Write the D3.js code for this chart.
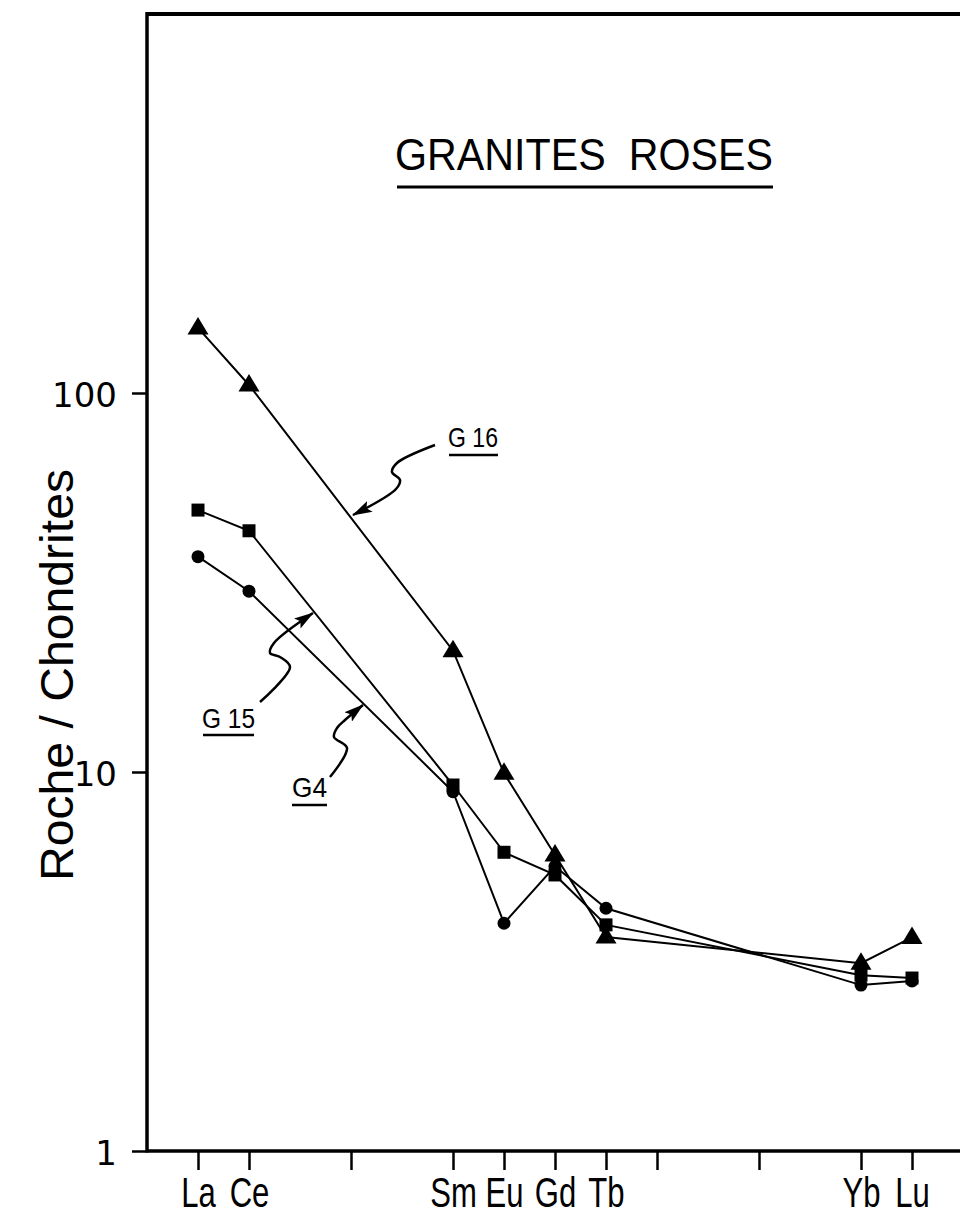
<!DOCTYPE html>
<html>
<head>
<meta charset="utf-8">
<script src="https://cdn.jsdelivr.net/npm/d3@7/dist/d3.min.js"></script>
<style>
  html, body { margin: 0; padding: 0; background: #fff; }
  svg { display: block; }
</style>
</head>
<body>
<svg id="chart" width="960" height="1219"></svg>
<script>
// ---------- DATA ----------
const elements = ["La","Ce","Pr","Nd","Pm","Sm","Eu","Gd","Tb","Dy","Ho","Er","Tm","Yb","Lu"];
const tickElements = ["La","Ce","Nd","Sm","Eu","Gd","Tb","Dy","Er","Yb","Lu"];
const labeledElements = ["La","Ce","Sm","Eu","Gd","Tb","Yb","Lu"];
const sampleElements = ["La","Ce","Sm","Eu","Gd","Tb","Yb","Lu"];
const g16 = [148.5, 105, 20.9, 9.92, 6.04, 3.67, 3.13, 3.66];
const g15 = [49.1, 43.3, 9.24, 6.14, 5.35, 3.95, 2.91, 2.86];
const g4  = [37.0, 30.0, 8.87, 3.99, 5.64, 4.37, 2.74, 2.81];
const yTicks = [1, 10, 100];
const yTickLabels = ["1", "10", "100"];
const chartTitle = "GRANITES  ROSES";
const yTitle = "Roche / Chondrites";

// ---------- LAYOUT ----------
const svg = d3.select("#chart");
const mLeft = 147, mTop = 14, mBottom = 1151, mRight = 960;
const x = d3.scalePoint().domain(elements).range([198, 912]).padding(0);
const y = d3.scaleLog().domain([1, 1000]).range([mBottom, mTop]);

const condensed = "'Liberation Sans', Arial, sans-serif";

// frame: top line
svg.append("line").attr("x1", mLeft).attr("x2", mRight).attr("y1", mTop).attr("y2", mTop)
  .attr("stroke", "#000").attr("stroke-width", 4);

// x axis
const xAxis = d3.axisBottom(x).tickValues(tickElements).tickSize(19).tickSizeOuter(0)
  .tickFormat(d => labeledElements.includes(d) ? d : "");
const gx = svg.append("g").attr("transform", `translate(0,${mBottom})`).call(xAxis);
gx.select(".domain").attr("stroke", "#000").attr("stroke-width", 3.5)
  .attr("d", `M${mLeft},0H${mRight}`);
gx.selectAll(".tick line").attr("stroke", "#000").attr("stroke-width", 2.5);
gx.selectAll(".tick text")
  .attr("y", 56).attr("dy", null)
  .attr("font-family", condensed).attr("font-size", 42).attr("fill", "#000")
  .attr("transform", "scale(0.74,1)");

// y axis
const yAxis = d3.axisLeft(y).tickValues(yTicks).tickSize(15).tickSizeOuter(0)
  .tickFormat((d, i) => yTickLabels[i]);
const gy = svg.append("g").attr("transform", `translate(${mLeft},0)`).call(yAxis);
gy.select(".domain").attr("stroke", "#000").attr("stroke-width", 3.5)
  .attr("d", `M0,${mTop - 2}V${mBottom + 1.5}`);
gy.selectAll(".tick line").attr("stroke", "#000").attr("stroke-width", 2.5);
gy.selectAll(".tick text")
  .attr("x", -30).attr("dy", 13)
  .attr("font-family", "'DejaVu Sans', sans-serif").attr("font-size", 34).attr("fill", "#000");

// y axis title
svg.append("text")
  .attr("transform", "translate(73,675) rotate(-90)")
  .attr("text-anchor", "middle")
  .attr("font-family", condensed).attr("font-size", 46)
  .attr("textLength", 412).attr("lengthAdjust", "spacingAndGlyphs")
  .text(yTitle);

// title
svg.append("text")
  .attr("x", 395).attr("y", 170)
  .attr("font-family", condensed).attr("font-size", 44)
  .attr("textLength", 378).attr("lengthAdjust", "spacingAndGlyphs")
  .style("white-space", "pre")
  .text(chartTitle);
svg.append("line").attr("x1", 397).attr("x2", 773).attr("y1", 187).attr("y2", 187)
  .attr("stroke", "#000").attr("stroke-width", 3);

// ---------- SERIES ----------
const series = [
  { name: "G4",  values: g4,  shape: "circle" },
  { name: "G15", values: g15, shape: "square" },
  { name: "G16", values: g16, shape: "triangle" }
];
const line = d3.line().x(d => x(d.el)).y(d => y(d.v));

series.forEach(s => {
  const pts = sampleElements.map((el, i) => ({ el, v: s.values[i] }));
  svg.append("path").datum(pts).attr("d", line)
    .attr("fill", "none").attr("stroke", "#000").attr("stroke-width", 2);
});

series.forEach(s => {
  const pts = sampleElements.map((el, i) => ({ el, v: s.values[i] }));
  const g = svg.append("g");
  if (s.shape === "circle") {
    g.selectAll("circle").data(pts).join("circle")
      .attr("cx", d => x(d.el)).attr("cy", d => y(d.v)).attr("r", 6.5).attr("fill", "#000");
  } else if (s.shape === "square") {
    g.selectAll("rect").data(pts).join("rect")
      .attr("x", d => x(d.el) - 6.5).attr("y", d => y(d.v) - 6.5)
      .attr("width", 13).attr("height", 13).attr("fill", "#000");
  } else {
    g.selectAll("path").data(pts).join("path")
      .attr("transform", d => `translate(${x(d.el)},${y(d.v)})`)
      .attr("d", "M0,-11L10.5,6.5L-10.5,6.5Z").attr("fill", "#000");
  }
});

// ---------- ANNOTATIONS ----------
const defs = svg.append("defs");
defs.append("marker").attr("id", "ah").attr("viewBox", "0 0 20 12")
  .attr("refX", 19).attr("refY", 6).attr("markerWidth", 20).attr("markerHeight", 12)
  .attr("markerUnits", "userSpaceOnUse").attr("orient", "auto")
  .append("path").attr("d", "M0,0L20,6L0,12L4,6Z").attr("fill", "#000");

const curve = d3.line().curve(d3.curveCatmullRom.alpha(0.5));
const arrows = [
  [[435,445],[397,463],[392,472],[400,480],[396,489],[353,515]],
  [[260,702],[290,667],[280,657],[270,653],[274,643],[313,613]],
  [[330,777],[347,748],[334,737],[337,728],[345,720],[363,705]]
];
arrows.forEach(a => {
  svg.append("path").attr("d", curve(a)).attr("fill", "none")
    .attr("stroke", "#000").attr("stroke-width", 2.5).attr("marker-end", "url(#ah)");
});

const labels = [
  { t: "G 16", x: 448, y: 447, w: 50, ux: [449, 498], uy: 455 },
  { t: "G 15", x: 202, y: 728, w: 53, ux: [203, 254], uy: 735 },
  { t: "G4",   x: 292, y: 797, w: 35, ux: [292, 327], uy: 805 }
];
labels.forEach(l => {
  svg.append("text").attr("x", l.x).attr("y", l.y)
    .attr("font-family", condensed).attr("font-size", 28)
    .attr("textLength", l.w).attr("lengthAdjust", "spacingAndGlyphs")
    .style("white-space", "pre").text(l.t);
  svg.append("line").attr("x1", l.ux[0]).attr("x2", l.ux[1]).attr("y1", l.uy).attr("y2", l.uy)
    .attr("stroke", "#000").attr("stroke-width", 2.5);
});
</script>
</body>
</html>
